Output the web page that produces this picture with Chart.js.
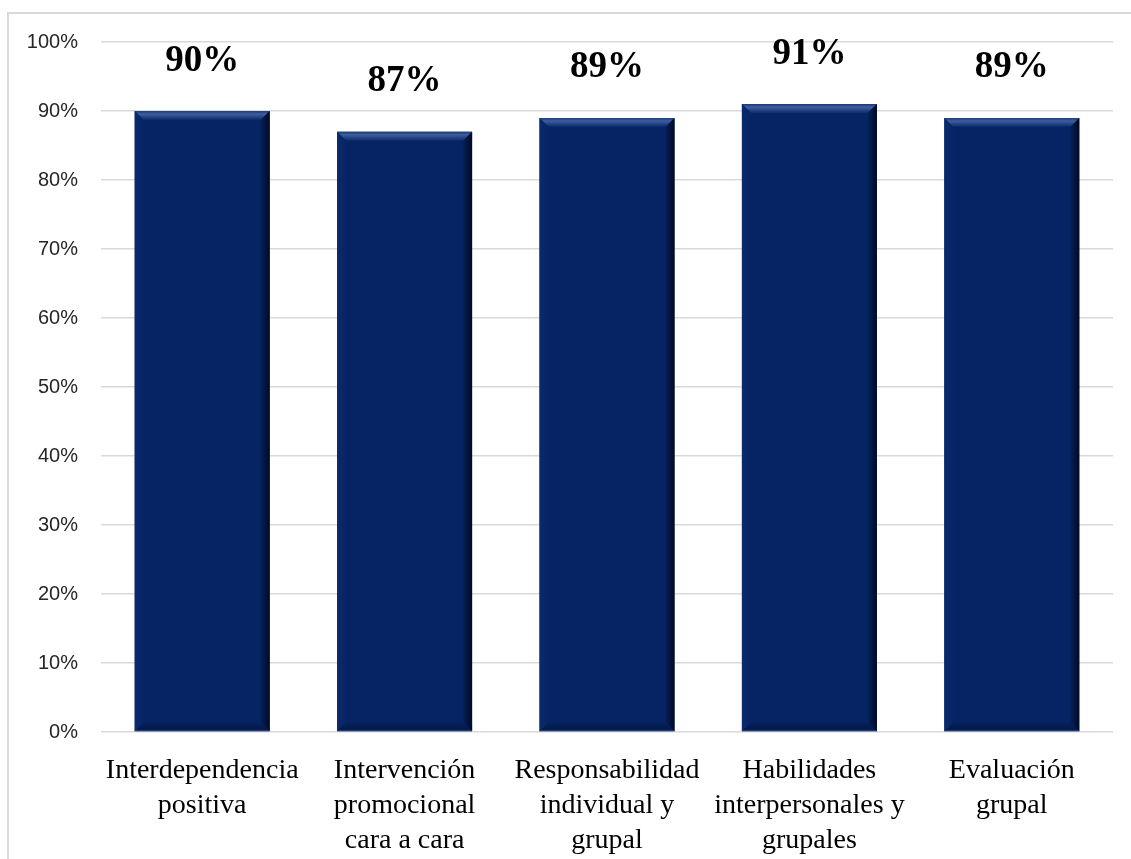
<!DOCTYPE html>
<html>
<head>
<meta charset="utf-8">
<script src="https://cdn.jsdelivr.net/npm/chart.js@4.4.1/dist/chart.umd.min.js"></script>
<style>
  html, body { margin: 0; padding: 0; background: #ffffff; overflow: hidden; }
  #frame {
    position: absolute; left: 7px; top: 12px; width: 1200px; height: 900px;
    border-top: 2px solid #d9d9d9; border-left: 2px solid #d9d9d9;
  }
  #wrap { position: absolute; left: 0; top: 0; width: 1131px; height: 859px; }
</style>
</head>
<body>
<div id="frame"></div>
<div id="wrap"><canvas id="barChart" width="1131" height="859"></canvas></div>
<script>
let categories = [
    ["Interdependencia", "positiva"],
    ["Intervención", "promocional", "cara a cara"],
    ["Responsabilidad", "individual y", "grupal"],
    ["Habilidades", "interpersonales y", "grupales"],
    ["Evaluación", "grupal"]
];
let percentValues = [90, 87, 89, 91, 89];
let yTicks = [0, 10, 20, 30, 40, 50, 60, 70, 80, 90, 100];

    // bevel look of the bars + value labels on top
    const bevelPlugin = {
        id: "bevel",
        afterDatasetsDraw(chart) {
            const ctx = chart.ctx;
            const bars = chart.getDatasetMeta(0).data;
            bars.forEach((bar, i) => {
                const left = bar.x - bar.width / 2;
                const right = bar.x + bar.width / 2;
                const top = bar.y;
                const bottom = bar.base;
                const b = 9;
                ctx.save();
                // top band
                let g = ctx.createLinearGradient(0, top, 0, top + b);
                g.addColorStop(0, "#1c3a7a");
                g.addColorStop(0.35, "#3e5e9c");
                g.addColorStop(1, "#0c2a6a");
                ctx.fillStyle = g;
                ctx.beginPath();
                ctx.moveTo(left, top);
                ctx.lineTo(right, top);
                ctx.lineTo(right - b, top + b);
                ctx.lineTo(left + b, top + b);
                ctx.closePath();
                ctx.fill();
                // right side
                g = ctx.createLinearGradient(right - b, 0, right, 0);
                g.addColorStop(0, "#05205a");
                g.addColorStop(1, "#000a22");
                ctx.fillStyle = g;
                ctx.beginPath();
                ctx.moveTo(right, top);
                ctx.lineTo(right, bottom);
                ctx.lineTo(right - b, bottom - b);
                ctx.lineTo(right - b, top + b);
                ctx.closePath();
                ctx.fill();
                // bottom
                g = ctx.createLinearGradient(0, bottom - b, 0, bottom);
                g.addColorStop(0, "#062262");
                g.addColorStop(0.8, "#041848");
                g.addColorStop(1, "#3a5a9a");
                ctx.fillStyle = g;
                ctx.beginPath();
                ctx.moveTo(left, bottom);
                ctx.lineTo(right, bottom);
                ctx.lineTo(right - b, bottom - b);
                ctx.lineTo(left + b, bottom - b);
                ctx.closePath();
                ctx.fill();
                // left side
                g = ctx.createLinearGradient(left, 0, left + b, 0);
                g.addColorStop(0, "#0a2a6c");
                g.addColorStop(1, "#072566");
                ctx.fillStyle = g;
                ctx.beginPath();
                ctx.moveTo(left, top);
                ctx.lineTo(left + b, top + b);
                ctx.lineTo(left + b, bottom - b);
                ctx.lineTo(left, bottom);
                ctx.closePath();
                ctx.fill();
                // value label
                ctx.fillStyle = "#000000";
                ctx.font = "bold 37px 'Liberation Serif', 'Times New Roman', serif";
                ctx.textAlign = "center";
                ctx.textBaseline = "middle";
                ctx.fillText(percentValues[i] + "%", bar.x, top - 50);
                ctx.restore();
            });
        }
    };

    const myChart = document.querySelector("#barChart").getContext("2d");

    const data = {
        labels: categories,
        datasets: [
            {
                label: "Porcentaje",
                data: percentValues,
                backgroundColor: "#062464",
                borderWidth: 0,
                barPercentage: 0.667,
                categoryPercentage: 1.0
            }
        ]
    };

    const config = {
        type: "bar",
        data: data,
        options: {
            responsive: false,
            animation: false,
            layout: {
                padding: { top: 42, right: 18, bottom: 0, left: 0 }
            },
            scales: {
                x: {
                    grid: { display: false },
                    border: { display: false },
                    ticks: {
                        color: "#000000",
                        padding: 13,
                        maxRotation: 0,
                        autoSkip: false,
                        font: { family: "'Liberation Serif', 'Times New Roman', serif", size: 28, lineHeight: 1.25 }
                    },
                    afterFit: (scale) => { scale.height = 127; }
                },
                y: {
                    min: 0,
                    max: 100,
                    afterBuildTicks: (scale) => { scale.ticks = yTicks.map(v => ({ value: v })); },
                    grid: { color: "#d9d9d9", lineWidth: 1.5, drawTicks: false },
                    border: { display: false },
                    ticks: {
                        color: "#262626",
                        padding: 23,
                        font: { family: "'Liberation Sans', Arial, sans-serif", size: 20 },
                        callback: (v) => v + "%"
                    },
                    afterFit: (scale) => { scale.width = 101; }
                }
            },
            plugins: {
                legend: { display: false },
                tooltip: { enabled: false },
                title: { display: false }
            }
        },
        plugins: [bevelPlugin]
    };

    new Chart(myChart, config);
</script>
</body>
</html>
